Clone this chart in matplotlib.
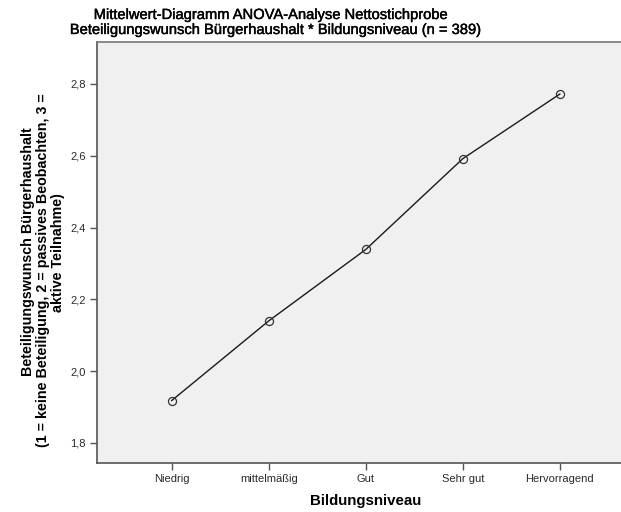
import numpy as np
import matplotlib
matplotlib.use("Agg")
from matplotlib import pyplot as plt
from matplotlib import patheffects
from matplotlib.ticker import FuncFormatter

# mean values per education level
categories = ['Niedrig', 'mittelmäßig', 'Gut', 'Sehr gut', 'Hervorragend']
means = [1.918, 2.140, 2.339, 2.592, 2.772]
yticks = [1.8, 2.0, 2.2, 2.4, 2.6, 2.8]
title_lines = ['Mittelwert-Diagramm ANOVA-Analyse Nettostichprobe',
               'Beteiligungswunsch Bürgerhaushalt * Bildungsniveau (n = 389)']
ylabel_lines = ['Beteiligungswunsch Bürgerhaushalt',
                '(1 = keine Beteiligung, 2 = passives Beobachten, 3 =',
                'aktive Teilnahme)']

plt.rcParams['font.family'] = ['Liberation Sans', 'DejaVu Sans']

W, H = 621, 512
fig = plt.figure(figsize=(W/100, H/100), dpi=100)
ax = fig.add_axes([97/W, 49/H, 1 - 97/W, (463-42)/H])
ax.set_facecolor('#f0f0f0')

x = np.arange(len(categories))
ax.plot(x, means, color='#1a1a1a', lw=1.0, marker='o', markersize=5.8,
        markerfacecolor='none', markeredgecolor='#333333', markeredgewidth=0.9)

ax.set_xlim(-0.77, 4.63)
ax.set_ylim(1.744, 2.917)
ax.set_xticks(x)
ax.set_xticklabels(categories)
ax.set_yticks(yticks)
ax.yaxis.set_major_formatter(FuncFormatter(lambda v, p: '{:.1f}'.format(v).replace('.', ',')))
ax.tick_params(axis='both', direction='out', length=5, width=1, color='#555555',
               labelsize=8, labelcolor='#2a2a2a', pad=3)

for s in ['left', 'bottom']:
    ax.spines[s].set_color('#555555')
    ax.spines[s].set_linewidth(1.2)
ax.spines['top'].set_color('#777777')
ax.spines['top'].set_linewidth(1.2)
ax.spines['right'].set_visible(False)

ax.set_xlabel('Bildungsniveau', fontsize=10.8, fontweight='bold')
ax.xaxis.set_label_coords((366-97)/524, (463-494)/421)

# y label as three centred rotated lines (as in the SPSS output)
for line, px, py in zip(ylabel_lines, [28, 43, 58], [252, 270, 253]):
    fig.text(px/W, 1 - py/H, line, rotation=90, ha='center', va='center',
             fontsize=10.3, fontweight='bold')

# title: regular weight, slightly thickened like the hinted original
thick = [patheffects.withStroke(linewidth=0.3, foreground='black')]
for line, px, py in zip(title_lines, [272, 277], [19, 34]):
    fig.text(px/W, 1 - py/H, line, ha='center', va='baseline', fontsize=10.6,
             path_effects=thick)

fig.savefig('out.png', dpi=100)
